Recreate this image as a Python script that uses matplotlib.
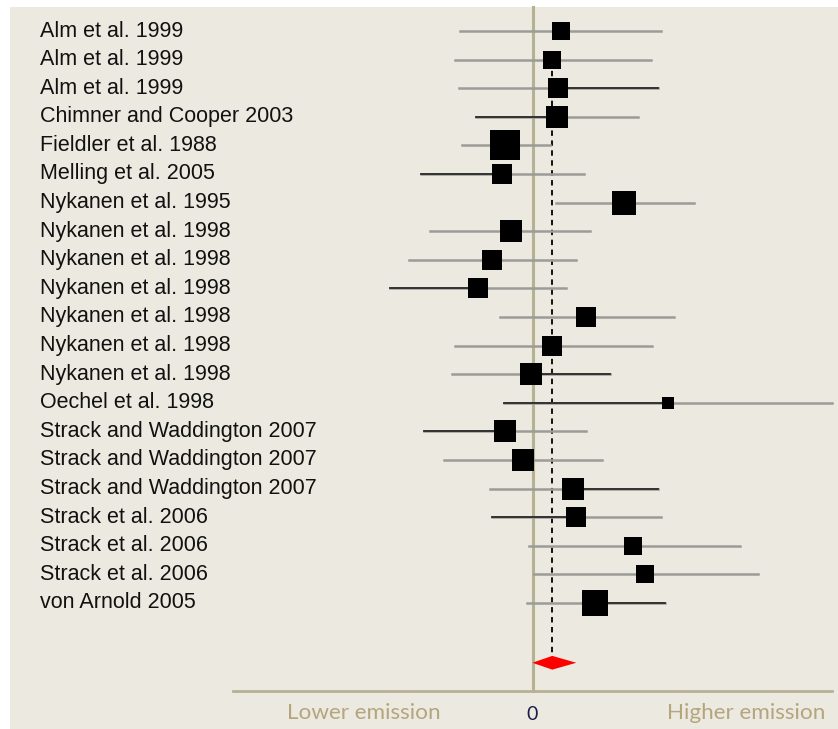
import matplotlib
matplotlib.use('Agg')
import matplotlib.pyplot as plt
from matplotlib.patches import Rectangle, Polygon

# study labels, top to bottom
studies = ['Alm et al. 1999', 'Alm et al. 1999', 'Alm et al. 1999',
           'Chimner and Cooper 2003', 'Fieldler et al. 1988', 'Melling et al. 2005',
           'Nykanen et al. 1995', 'Nykanen et al. 1998', 'Nykanen et al. 1998',
           'Nykanen et al. 1998', 'Nykanen et al. 1998', 'Nykanen et al. 1998',
           'Nykanen et al. 1998', 'Oechel et al. 1998', 'Strack and Waddington 2007',
           'Strack and Waddington 2007', 'Strack and Waddington 2007',
           'Strack et al. 2006', 'Strack et al. 2006', 'Strack et al. 2006',
           'von Arnold 2005']

# effect sizes and confidence limits (0 = no effect)
effect = [0.28, 0.19, 0.25, 0.24, -0.28, -0.31, 0.91, -0.22, -0.41, -0.55, 0.53,
          0.19, -0.02, 1.35, -0.28, -0.10, 0.40, 0.43, 1.00, 1.12, 0.62]
lower = [-0.73, -0.78, -0.74, -0.57, -0.71, -1.12, 0.23, -1.03, -1.24, -1.43, -0.33,
         -0.78, -0.81, -0.29, -1.09, -0.89, -0.43, -0.41, -0.04, 0.01, -0.06]
upper = [1.28, 1.18, 1.25, 1.05, 0.17, 0.51, 1.61, 0.57, 0.43, 0.33, 1.41,
         1.19, 0.77, 2.99, 0.53, 0.69, 1.25, 1.28, 2.07, 2.25, 1.32]
# study weight -> square size (px)
weight = [18, 18, 20, 22, 30, 20, 24, 22, 20, 20, 20,
          20, 22, 12, 22, 22, 22, 20, 18, 18, 26]
# which half of the CI line is drawn dark
dark = ['', '', 'R', 'L', '', 'L', '', '', '', 'L', '',
        '', 'R', 'L', 'L', '', 'R', 'L', '', '', 'R']

pooled = 0.19
pooled_lo = -0.01
pooled_hi = 0.43

fig = plt.figure(figsize=(8.38, 7.29), dpi=100)
fig.patch.set_facecolor('white')

ax = fig.add_axes([0, 0, 1, 1])
ax.patch.set_alpha(0)
ax.set_xlim(-5.333, 3.047)
ax.set_ylim(24.406, -1.084)
ax.axis('off')

# beige panel
ax.add_patch(Rectangle((10 / 838, 0), 1, 1 - 7 / 729, transform=fig.transFigure,
                       facecolor='#ECEAE0', edgecolor='none', zorder=0))

grey = '#9b9b97'
darkc = '#2a2a2a'

# zero line and bottom axis
ax.plot([0, 0], [-0.85, 23.07], color='#B7B194', lw=2.2, zorder=1)
ax.plot([-3.0, 2.99], [23.07, 23.07], color='#B7B194', lw=2, zorder=1)
# pooled effect dashed line
ax.plot([pooled, pooled], [0.7, 21.9], color='black', lw=1.3, ls=(0, (3, 2.5)), zorder=2)

for i, name in enumerate(studies):
    ax.text(-4.93, i, name, ha='left', va='center', fontsize=15.5,
            family='Liberation Sans', color='#111111')
    ax.plot([lower[i], upper[i]], [i, i], color=grey, lw=1.8, zorder=3)
    if dark[i] == 'L':
        ax.plot([lower[i], effect[i]], [i, i], color=darkc, lw=1.3, zorder=3)
    elif dark[i] == 'R':
        ax.plot([effect[i], upper[i]], [i, i], color=darkc, lw=1.3, zorder=3)
    ax.plot(effect[i], i, marker='s', color='black', markersize=weight[i] * 0.72,
            markeredgewidth=0, zorder=4)

# pooled diamond
yd = 22.09
ax.add_patch(Polygon([[pooled_lo, yd], [pooled, yd - 0.24], [pooled_hi, yd], [pooled, yd + 0.24]],
                     closed=True, facecolor='#FF0000', edgecolor='none', zorder=5))

ax.text(-1.69, 23.85, 'Lower emission', ha='center', va='center', fontsize=16.2,
        family='Lato', color='#B5A57E')
ax.text(-0.01, 23.9, '0', ha='center', va='center', fontsize=14,
        family='Lato', color='#1B1B4A')
ax.text(2.13, 23.85, 'Higher emission', ha='center', va='center', fontsize=16.2,
        family='Lato', color='#B5A57E')

plt.savefig('out.png', dpi=100)
